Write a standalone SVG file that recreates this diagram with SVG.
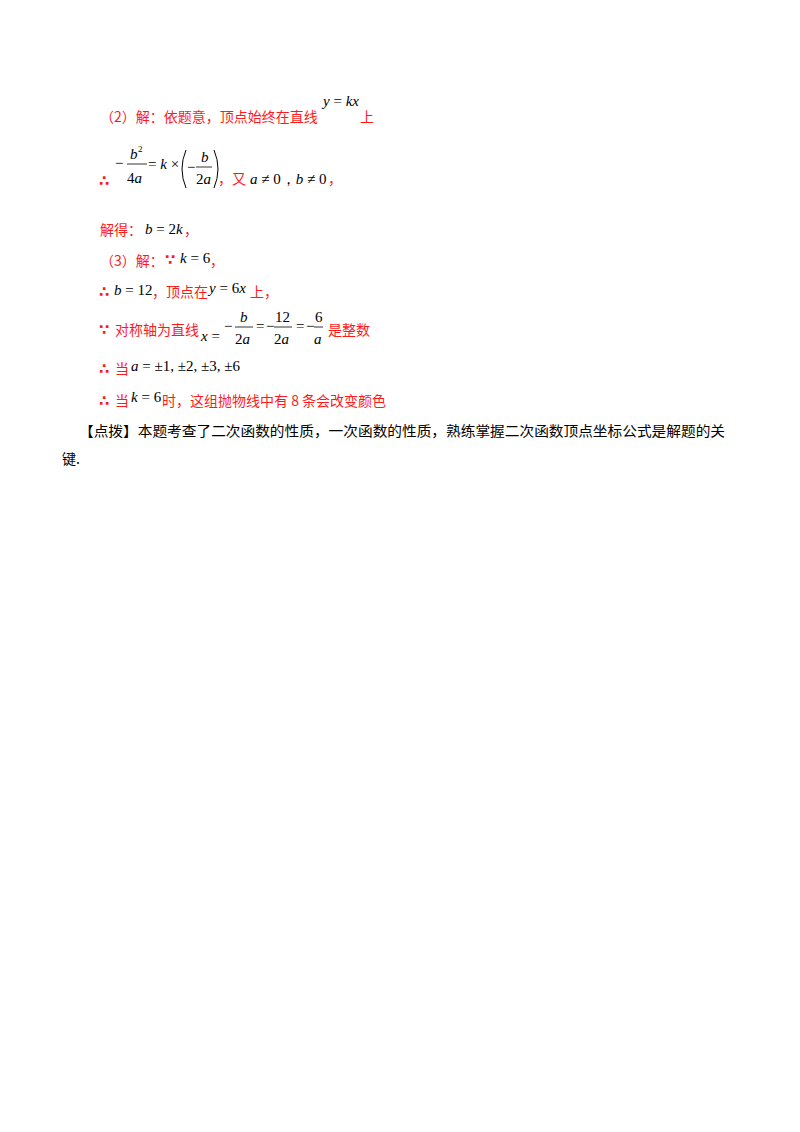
<svg xmlns="http://www.w3.org/2000/svg" width="800" height="1132" viewBox="0 0 800 1132">
<style>
.r{font-family:"Noto Sans CJK SC","Liberation Sans",sans-serif;font-size:14px;fill:#ff1a1a}
.k{font-family:"Noto Sans CJK SC","Liberation Sans",sans-serif;font-size:14px;fill:#000}
.m{font-family:"Liberation Serif",serif;font-size:15px;fill:#000}
.i{font-style:italic}
.t{font-family:"DejaVu Sans",sans-serif;font-size:15px;fill:#ff1a1a;font-weight:bold}
.bar{stroke:#000;stroke-width:0.8}
</style>
<rect width="800" height="1132" fill="#fff"/>
<g id="line1">
<text class="r" x="100" y="122">（2）解：依题意，顶点始终在直线</text>
<text class="m" x="323" y="106"><tspan class="i">y</tspan> = <tspan class="i">kx</tspan></text>
<text class="r" x="360" y="122">上</text>
</g>
<g id="line2">
<text class="t" x="99" y="186">∴</text>
<text class="m" x="115" y="168">−</text>
<text class="m i" x="130" y="159">b</text><text class="m" x="138" y="152" style="font-size:9px">2</text>
<line class="bar" x1="127" y1="164" x2="147" y2="164"/>
<text class="m" x="127" y="183">4<tspan class="i">a</tspan></text>
<text class="m" x="148" y="169">= <tspan class="i">k</tspan> ×</text>
<path d="M186 150 Q178 169 186 188 M214 150 Q222 169 214 188" fill="none" stroke="#000" stroke-width="1"/>
<text class="m" x="187" y="172">−</text>
<text class="m i" x="201" y="162">b</text>
<line class="bar" x1="196" y1="167" x2="212" y2="167"/>
<text class="m" x="196" y="184">2<tspan class="i">a</tspan></text>
<text class="r" x="218" y="184">，又</text>
<text class="m" x="250" y="184"><tspan class="i">a</tspan> ≠ 0，<tspan class="i">b</tspan> ≠ 0</text>
<text class="r" x="328" y="184">，</text>
</g>
<g id="line3">
<text class="r" x="100" y="235">解得：</text>
<text class="m" x="145" y="234"><tspan class="i">b</tspan> = 2<tspan class="i">k</tspan></text>
<text class="r" x="184" y="235">，</text>
</g>
<g id="line4">
<text class="r" x="100" y="266">（3）解：</text>
<text class="t" x="165" y="265">∵</text>
<text class="m" x="180" y="263"><tspan class="i">k</tspan> = 6</text>
<text class="r" x="210" y="266">，</text>
</g>
<g id="line5">
<text class="t" x="99" y="297">∴</text>
<text class="m" x="114" y="295"><tspan class="i">b</tspan> = 12</text>
<text class="r" x="152" y="297">，顶点在</text>
<text class="m" x="209" y="293"><tspan class="i">y</tspan> = 6<tspan class="i">x</tspan></text>
<text class="r" x="250" y="297">上，</text>
</g>
<g id="line6">
<text class="t" x="99" y="335">∵</text>
<text class="r" x="115" y="335">对称轴为直线</text>
<text class="m" x="201" y="341"><tspan class="i">x</tspan> =</text>
<text class="m" x="224" y="331">−</text>
<text class="m i" x="240" y="322">b</text>
<line class="bar" x1="235" y1="327" x2="253" y2="327"/>
<text class="m" x="235" y="344">2<tspan class="i">a</tspan></text>
<text class="m" x="256" y="331">=</text>
<text class="m" x="266" y="331">−</text>
<text class="m" x="275" y="322">12</text>
<line class="bar" x1="274" y1="327" x2="292" y2="327"/>
<text class="m" x="274" y="344">2<tspan class="i">a</tspan></text>
<text class="m" x="296" y="331">=</text>
<text class="m" x="306" y="331">−</text>
<text class="m" x="315" y="322">6</text>
<line class="bar" x1="314" y1="327" x2="323" y2="327"/>
<text class="m i" x="314" y="344">a</text>
<text class="r" x="328" y="335">是整数</text>
</g>
<g id="line7">
<text class="t" x="99" y="374">∴</text>
<text class="r" x="115" y="374">当</text>
<text class="m" x="131" y="371"><tspan class="i">a</tspan> = ±1, ±2, ±3, ±6</text>
</g>
<g id="line8">
<text class="t" x="99" y="406">∴</text>
<text class="r" x="115" y="406">当</text>
<text class="m" x="131" y="402"><tspan class="i">k</tspan> = 6</text>
<text class="r" x="162" y="406">时，这组抛物线中有 8 条会改变颜色</text>
</g>
<g id="note">
<text class="k" x="79" y="436" textLength="646" lengthAdjust="spacingAndGlyphs">【点拨】本题考查了二次函数的性质，一次函数的性质，熟练掌握二次函数顶点坐标公式是解题的关</text>
<text class="k" x="62" y="464">键.</text>
</g>
</svg>
